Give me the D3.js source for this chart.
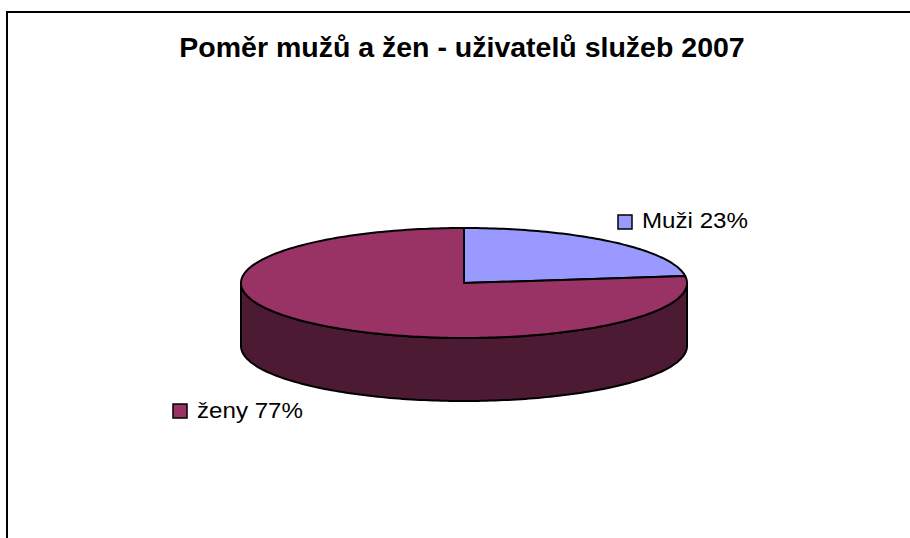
<!DOCTYPE html>
<html>
<head>
<meta charset="utf-8">
<script src="https://cdn.jsdelivr.net/npm/d3@7"></script>
<style>
  html, body { margin: 0; padding: 0; background: #fff; }
  svg { display: block; font-family: "Liberation Sans", Arial, sans-serif; }
</style>
</head>
<body>
<div id="chart"></div>
<script>
// chart data
const categories = ['Muži', 'ženy'];
const values = [23, 77];
const topColors = ['#9999ff', '#993366'];
const sideColors = ['#4d4d80', '#4d1a33'];
const titleText = 'Poměr mužů a žen - uživatelů služeb 2007';

const width = 910, height = 538;
const svg = d3.select('#chart').append('svg')
  .attr('width', width).attr('height', height);

// outer frame (runs off the right and bottom edges)
svg.append('rect')
  .attr('x', 7).attr('y', 12)
  .attr('width', 1000).attr('height', 1000)
  .attr('fill', 'none').attr('stroke', '#000').attr('stroke-width', 2);

svg.append('text')
  .attr('x', 462).attr('y', 57)
  .attr('text-anchor', 'middle')
  .attr('font-size', 28.5).attr('font-weight', 'bold')
  .text(titleText);

// 3D pie geometry
const cx = 464, cy = 283, rx = 223, ry = 55, depth = 63;
const pie = d3.pie().sort(null).value((d) => d.value);
const arcs = pie(categories.map((c, i) => ({ name: c, value: values[i], i })));

const pt = (a, dy = 0) => [cx + rx * Math.sin(a), cy - ry * Math.cos(a) + dy];

function arcPoints(a0, a1, dy = 0) {
  const n = Math.max(2, Math.ceil(Math.abs(a1 - a0) / 0.02));
  return d3.range(n + 1).map((k) => pt(a0 + (a1 - a0) * k / n, dy));
}

const line = d3.line();
const g = svg.append('g');

// front side walls
arcs.forEach((d) => {
  const a0 = Math.max(d.startAngle, Math.PI / 2);
  const a1 = Math.min(d.endAngle, 3 * Math.PI / 2);
  if (a1 <= a0) return;
  const pts = arcPoints(a0, a1).concat(arcPoints(a1, a0, depth));
  g.append('path')
    .attr('d', line(pts) + 'Z')
    .attr('fill', sideColors[d.data.i])
    .attr('stroke', '#000').attr('stroke-width', 2)
    .attr('stroke-linejoin', 'round');
});

// top faces
arcs.forEach((d) => {
  const pts = [[cx, cy]].concat(arcPoints(d.startAngle, d.endAngle));
  g.append('path')
    .attr('d', line(pts) + 'Z')
    .attr('fill', topColors[d.data.i])
    .attr('stroke', '#000').attr('stroke-width', 2)
    .attr('stroke-linejoin', 'round');
});

// labels with colour keys
const labelPos = [
  { sx: 618, sy: 215, tx: 642, ty: 228 },
  { sx: 173, sy: 404, tx: 197, ty: 418 },
];
arcs.forEach((d) => {
  const p = labelPos[d.data.i];
  svg.append('rect')
    .attr('x', p.sx).attr('y', p.sy)
    .attr('width', 14).attr('height', 14)
    .attr('fill', topColors[d.data.i])
    .attr('stroke', '#000').attr('stroke-width', 1.5);
  svg.append('text')
    .attr('x', p.tx).attr('y', p.ty)
    .attr('font-size', 22)
    .attr('textLength', 106).attr('lengthAdjust', 'spacingAndGlyphs')
    .text(`${d.data.name} ${d.data.value}%`);
});
</script>
</body>
</html>
